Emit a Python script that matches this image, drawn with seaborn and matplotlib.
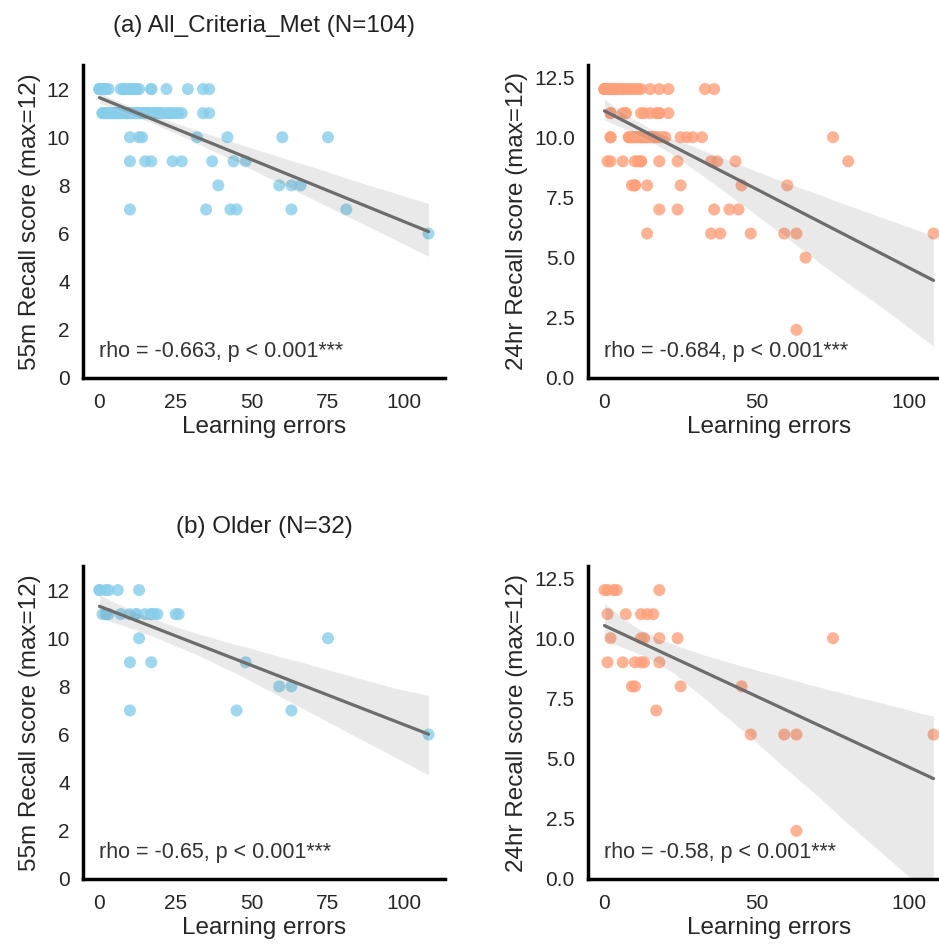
import numpy as np
import pandas as pd
import matplotlib
matplotlib.use("Agg")
import matplotlib.pyplot as plt
import seaborn as sns

sns.set_theme(style="white")
plt.rcParams['font.family'] = ['Liberation Sans', 'DejaVu Sans']

# ---- Data: learning errors grouped by recall score ----
# (a) All_Criteria_Met, 55m recall
A55_SCORES = [12, 11, 10, 9, 8, 7, 6]
A55_ERRORS = [
    [0, 0, 0, 1, 1, 2, 3, 7, 8, 9, 10, 11, 12, 13, 17, 17, 22, 29, 34, 36, 0, 1, 2, 8, 10, 12],
    [1, 2, 3, 4, 5, 6, 7, 8, 9, 10, 11, 12, 13, 14, 15, 16, 17, 18, 19, 20, 21, 22, 23, 24, 25, 26, 27,
     2, 4, 6, 8, 10, 12, 14, 16, 18, 20, 3, 5, 7, 9, 11, 13, 34, 36, 1, 15, 5, 9, 13, 19, 23],
    [10, 13, 14, 32, 42, 60, 75],
    [10, 15, 17, 24, 27, 37, 44, 48],
    [39, 59, 63, 66],
    [10, 35, 43, 45, 63, 81],
    [108],
]
# (a) All_Criteria_Met, 24hr recall
A24_SCORES = [12, 11, 10, 9, 8, 7, 6, 5, 2]
A24_ERRORS = [
    [0, 0, 0, 1, 1, 2, 2, 3, 3, 4, 5, 6, 7, 8, 9, 10, 11, 12, 15, 18, 21, 33, 36, 0, 1, 2, 4, 6],
    [2, 2, 6, 7, 7, 12, 13, 15, 17, 18, 18, 21],
    [2, 2, 8, 9, 10, 11, 12, 13, 14, 15, 16, 17, 18, 19, 20, 8, 10, 12, 14, 16, 25, 27, 29, 32, 75,
     9, 11, 13, 15, 17],
    [1, 2, 6, 10, 11, 12, 12, 18, 24, 35, 37, 43, 80],
    [9, 10, 10, 14, 25, 45, 60],
    [18, 24, 36, 41, 44],
    [14, 35, 38, 48, 59, 63, 108],
    [66],
    [63],
]
# (b) Older, 55m recall
B55_SCORES = [12, 11, 10, 9, 8, 7, 6]
B55_ERRORS = [
    [0, 0, 2, 3, 6, 13],
    [1, 2, 2, 3, 7, 10, 12, 12, 15, 17, 17, 18, 19, 25, 26],
    [13, 75],
    [10, 17, 48],
    [59, 63],
    [10, 45, 63],
    [108],
]
# (b) Older, 24hr recall
B24_SCORES = [12, 11, 10, 9, 8, 7, 6, 2]
B24_ERRORS = [
    [0, 1, 3, 4, 18],
    [1, 7, 12, 14, 16],
    [2, 12, 13, 18, 24, 75],
    [1, 6, 10, 12, 13, 18],
    [9, 10, 25, 45],
    [17],
    [48, 59, 63, 108],
    [63],
]

RHO_TEXT = {
    "a55": "rho = -0.663, p < 0.001***",
    "a24": "rho = -0.684, p < 0.001***",
    "b55": "rho = -0.65, p < 0.001***",
    "b24": "rho = -0.58, p < 0.001***",
}
TITLES = ["(a) All_Criteria_Met (N=104)", "(b) Older (N=32)"]
YLABEL_55 = "55m Recall score (max=12)"
YLABEL_24 = "24hr Recall score (max=12)"
XLABEL = "Learning errors"


def build(scores, errors):
    xs, ys = [], []
    for s, errs in zip(scores, errors):
        xs.extend(errs)
        ys.extend([s] * len(errs))
    return pd.DataFrame({"errors": xs, "score": ys})


panels = [
    (build(A55_SCORES, A55_ERRORS), "#87CEEB", YLABEL_55, RHO_TEXT["a55"], "55"),
    (build(A24_SCORES, A24_ERRORS), "#FFA07A", YLABEL_24, RHO_TEXT["a24"], "24"),
    (build(B55_SCORES, B55_ERRORS), "#87CEEB", YLABEL_55, RHO_TEXT["b55"], "55"),
    (build(B24_SCORES, B24_ERRORS), "#FFA07A", YLABEL_24, RHO_TEXT["b24"], "24"),
]

W, H = 939, 944
fig = plt.figure(figsize=(W / 100, H / 100), dpi=100)
rects = [
    (83, 65, 362, 313), (588, 65, 362, 313),
    (83, 566, 362, 313), (588, 566, 362, 313),
]
axes = []
for (x0, y0, w, h) in rects:
    axes.append(fig.add_axes([x0 / W, 1 - (y0 + h) / H, w / W, h / H]))

for i, (ax, (df, col, ylab, txt, kind)) in enumerate(zip(axes, panels)):
    sns.regplot(data=df, x="errors", y="score", ax=ax, seed=0,
                scatter_kws=dict(color=col, alpha=0.8, s=75, edgecolor="none"),
                line_kws=dict(color="#6c6c6c", lw=2.3))
    ax.set_ylim(0, 13)
    ax.set_xlim(-5.4, 113.4)
    if kind == "55":
        ax.set_yticks([0, 2, 4, 6, 8, 10, 12])
    else:
        ax.set_yticks([0, 2.5, 5, 7.5, 10, 12.5])
    ax.set_xticks([0, 25, 50, 75, 100] if i % 2 == 0 else [0, 50, 100])
    ax.set_xlabel(XLABEL, fontsize=17.5, labelpad=3)
    ax.set_ylabel(ylab, fontsize=17.5)
    ax.tick_params(labelsize=15, colors="#262626")
    ax.tick_params(axis="x", pad=5)
    for side in ["top", "right"]:
        ax.spines[side].set_visible(False)
    for side in ["left", "bottom"]:
        ax.spines[side].set_color("black")
        ax.spines[side].set_linewidth(2.5)
    ax.text(0.045, 0.05, txt, transform=ax.transAxes, fontsize=15.5, color="#333333",
            ha="left", va="bottom")

axes[0].set_title(TITLES[0], fontsize=17.5, pad=24, color="#222222")
axes[2].set_title(TITLES[1], fontsize=17.5, pad=24, color="#222222")

fig.savefig("out.png", dpi=100)
